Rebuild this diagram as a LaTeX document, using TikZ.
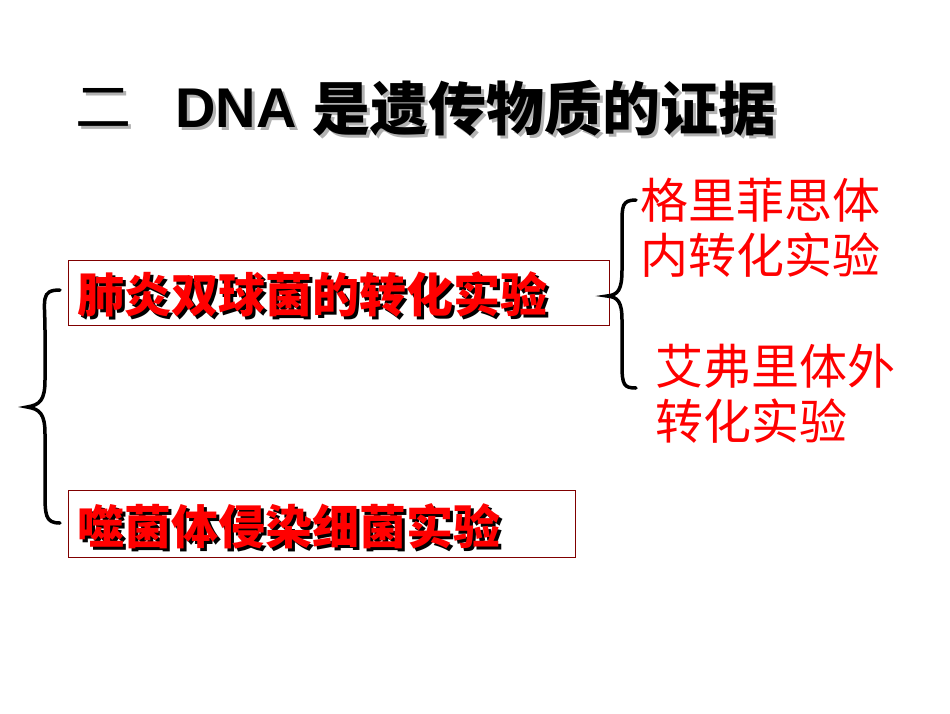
\documentclass[tikz,border=0pt]{standalone}
\usepackage{fontspec}
\newfontfamily\cjk{Noto Sans CJK SC}
\setmainfont{Liberation Sans}
\begin{document}
\begin{tikzpicture}[x=1pt,y=-1pt,
  redtxt/.style={text=red,font=\cjk\fontsize{48}{54}\selectfont,anchor=west,inner sep=0},
  boldred/.style={text=red,font=\cjk\bfseries\fontsize{47}{52}\selectfont,anchor=west,inner sep=0},
  shad/.style={text=black,font=\cjk\bfseries\fontsize{47}{52}\selectfont,anchor=west,inner sep=0},
  tsh/.style={anchor=west,inner sep=0,text=gray!60},
  tt/.style={anchor=west,inner sep=0,text=black},
  box/.style={draw=red!50!black,line width=1pt},
  brc/.style={line width=3.5pt,line cap=round}]
\useasboundingbox (0,0) rectangle (950,713);
% title
\node[tsh,font=\cjk\fontsize{56}{60}\selectfont] at (78,111) {二};
\node[tt,font=\cjk\fontsize{56}{60}\selectfont] (t1) at (75,108) {二};
\node[tsh,font=\bfseries\fontsize{56}{60}\selectfont] at (178,111) {DNA};
\node[tt,font=\bfseries\fontsize{56}{60}\selectfont] (t2) at (175,108) {DNA};
\node[tsh,font=\cjk\bfseries\fontsize{58}{62}\selectfont] at (315,111) {是遗传物质的证据};
\node[tt,font=\cjk\bfseries\fontsize{58}{62}\selectfont] (t3) at (312,108) {是遗传物质的证据};
% boxes
\draw[box] (68,260) rectangle (609,325);
\node[shad] at (80,297) {肺炎双球菌的转化实验};
\node[boldred] (b1) at (77,294) {肺炎双球菌的转化实验};
\draw[box] (68,490) rectangle (575,557);
\node[shad] at (80,529) {噬菌体侵染细菌实验};
\node[boldred] (b2) at (77,526) {噬菌体侵染细菌实验};
% right texts
\node[redtxt] (g1) at (640,200) {格里菲思体};
\node[redtxt] (g2) at (640,255) {内转化实验};
\node[redtxt] (a1) at (655,366) {艾弗里体外};
\node[redtxt] (a2) at (655,421) {转化实验};
% left brace
\draw[brc] (60,290) .. controls (40,290) and (45,300) .. (45,330) -- (45,380)
  .. controls (45,400) and (40,405) .. (27,407)
  .. controls (40,409) and (45,414) .. (45,434) -- (45,490)
  .. controls (45,515) and (45,523) .. (60,523);
% right brace
\draw[brc] (636,200) .. controls (622,200) and (622,206) .. (622,225) -- (622,270)
  .. controls (622,290) and (618,295) .. (607,296)
  .. controls (618,297) and (622,302) .. (622,320) -- (622,365)
  .. controls (622,385) and (624,388) .. (636,388);
\end{tikzpicture}
\end{document}
